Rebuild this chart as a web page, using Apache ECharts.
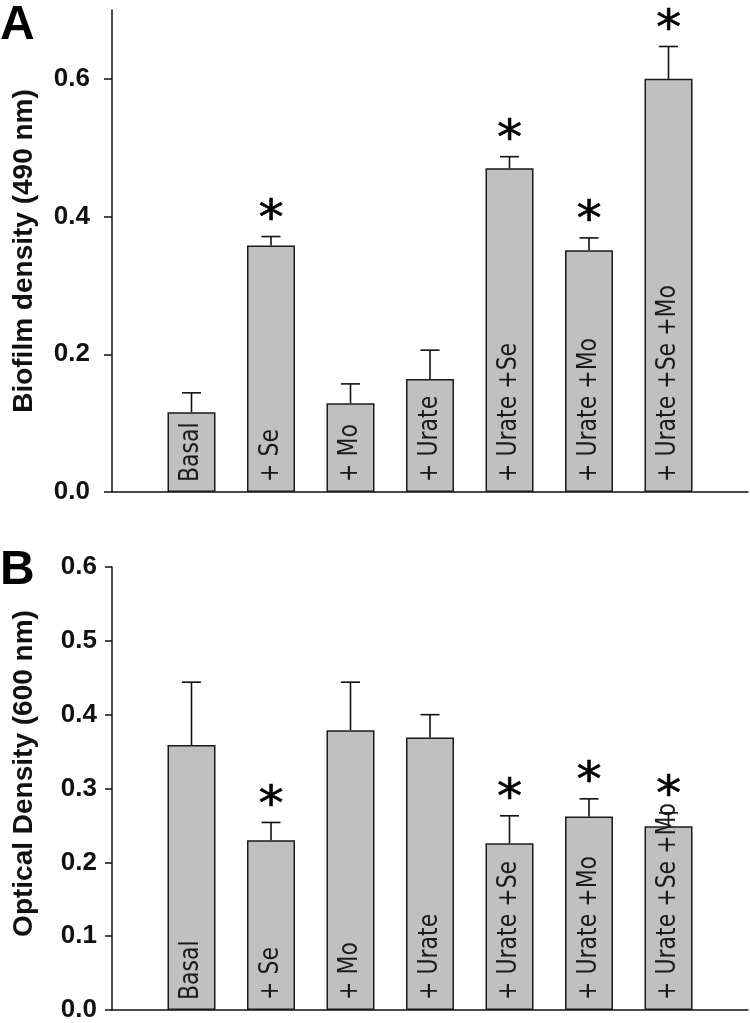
<!DOCTYPE html>
<html>
<head>
<meta charset="utf-8">
<script src="https://cdn.jsdelivr.net/npm/echarts@6/dist/echarts.min.js"></script>
<style>
html,body{margin:0;padding:0;background:#fff;}
#chart{width:750px;height:1023px;}
</style>
</head>
<body>
<div id="chart"></div>
<script>
// ---- data ----
const categories = ['Basal', '+ Se', '+ Mo', '+ Urate', '+ Urate +Se', '+ Urate +Mo', '+ Urate +Se +Mo'];
const biofilm = [0.116, 0.358, 0.129, 0.164, 0.470, 0.351, 0.600];
const biofilmErr = [0.028, 0.013, 0.028, 0.042, 0.017, 0.018, 0.047];
const biofilmSig = [0, 1, 0, 0, 1, 1, 1];
const optical = [0.359, 0.230, 0.379, 0.369, 0.226, 0.262, 0.249];
const opticalErr = [0.085, 0.024, 0.065, 0.031, 0.037, 0.024, 0.018];
const opticalSig = [0, 1, 0, 0, 1, 1, 1];
const ticksA = [0, 0.2, 0.4, 0.6];
const ticksB = [0, 0.1, 0.2, 0.3, 0.4, 0.5, 0.6];
const titleA = 'Biofilm density (490 nm)';
const titleB = 'Optical Density (600 nm)';

// ---- styles ----
const INK = '#111111';
const BAR_FILL = '#c0c0c0';
const AXIS_FONT = 'Liberation Sans';

function barData(vals) { return vals.map((v, i) => [i + 1, v]); }
function errData(vals, errs, sig) { return vals.map((v, i) => [i + 1, v, errs[i], sig[i]]); }
function labelData(vals) { return vals.map((v, i) => [i + 1, 0]); }

function errRender(params, api) {
  const x = api.value(0), v = api.value(1), e = api.value(2), s = api.value(3);
  const base = api.coord([x, v]);
  const top = api.coord([x, v + e]);
  const children = [
    { type: 'line', shape: { x1: base[0], y1: base[1], x2: top[0], y2: top[1] },
      style: { stroke: INK, lineWidth: 1.6 } },
    { type: 'line', shape: { x1: top[0] - 9.5, y1: top[1], x2: top[0] + 9.5, y2: top[1] },
      style: { stroke: INK, lineWidth: 1.6 } }
  ];
  if (s) {
    children.push({ type: 'text', x: top[0], y: top[1] - 15, scaleX: 1.05,
      style: { text: '*', x: 0, y: 0,
      font: '48px "DejaVu Sans"', fill: '#000', align: 'center', verticalAlign: 'middle',
      stroke: '#000', lineWidth: 0.6 } });
  }
  return { type: 'group', children };
}

function labelRender(params, api) {
  const x = api.value(0);
  const p = api.coord([x, 0]);
  return {
    type: 'text', x: p[0], y: p[1] - 10, rotation: Math.PI / 2, scaleY: 1.22,
    style: { text: categories[params.dataIndex], x: 0, y: 0,
      font: '22px "DejaVu Sans"', fill: '#1a1a1a', align: 'left', verticalAlign: 'middle' }
  };
}

function barSeries(idx, vals) {
  return {
    type: 'bar', xAxisIndex: idx, yAxisIndex: idx,
    data: barData(vals), barWidth: 48,
    itemStyle: { color: BAR_FILL, borderColor: '#1a1a1a', borderWidth: 1.5 },
    silent: true, animation: false
  };
}

function yAxisCfg(idx, max, ticks, name, labelMargin, tickLen, namePadding) {
  return {
    gridIndex: idx, type: 'value', min: 0, max: max, interval: 0.1,
    name: name, nameLocation: 'middle', nameGap: 74,
    nameTextStyle: { fontFamily: AXIS_FONT, fontWeight: 'bold', fontSize: 28, color: INK, padding: namePadding },
    axisLine: { show: true, lineStyle: { color: INK, width: 1.5 } },
    axisTick: { show: true, length: tickLen, customValues: ticks, lineStyle: { color: INK, width: 1.5 } },
    axisLabel: { customValues: ticks, margin: labelMargin, formatter: v => v.toFixed(1),
      fontFamily: AXIS_FONT, fontWeight: 'bold', fontSize: 26, color: INK },
    splitLine: { show: false }
  };
}

function xAxisCfg(idx) {
  return {
    gridIndex: idx, type: 'value', min: 0, max: 8,
    axisLine: { show: true, onZero: false, lineStyle: { color: INK, width: 1.5 } },
    axisTick: { show: false }, axisLabel: { show: false }, splitLine: { show: false }
  };
}

const chart = echarts.init(document.getElementById('chart'), null, { renderer: 'canvas' });
chart.setOption({
  animation: false,
  grid: [
    { left: 112, width: 636, top: 10, height: 482 },
    { left: 112, width: 636, top: 567, height: 443 }
  ],
  xAxis: [xAxisCfg(0), xAxisCfg(1)],
  yAxis: [
    yAxisCfg(0, 0.7, ticksA, titleA, 22, 8, [0, 0, 0, 0]),
    yAxisCfg(1, 0.6, ticksB, titleB, 15, 7, [0, 0, 0, 30])
  ],
  graphic: [
    { type: 'text', left: 0, top: 2, style: { text: 'A', font: 'bold 48px "Liberation Sans"', fill: '#000' } },
    { type: 'text', left: 0, top: 547, style: { text: 'B', font: 'bold 48px "Liberation Sans"', fill: '#000' } }
  ],
  series: [
    barSeries(0, biofilm),
    { type: 'custom', xAxisIndex: 0, yAxisIndex: 0, renderItem: errRender,
      data: errData(biofilm, biofilmErr, biofilmSig), silent: true, z: 3 },
    { type: 'custom', xAxisIndex: 0, yAxisIndex: 0, renderItem: labelRender,
      data: labelData(biofilm), silent: true, z: 4 },
    barSeries(1, optical),
    { type: 'custom', xAxisIndex: 1, yAxisIndex: 1, renderItem: errRender,
      data: errData(optical, opticalErr, opticalSig), silent: true, z: 3 },
    { type: 'custom', xAxisIndex: 1, yAxisIndex: 1, renderItem: labelRender,
      data: labelData(optical), silent: true, z: 4 }
  ]
});
</script>
</body>
</html>
